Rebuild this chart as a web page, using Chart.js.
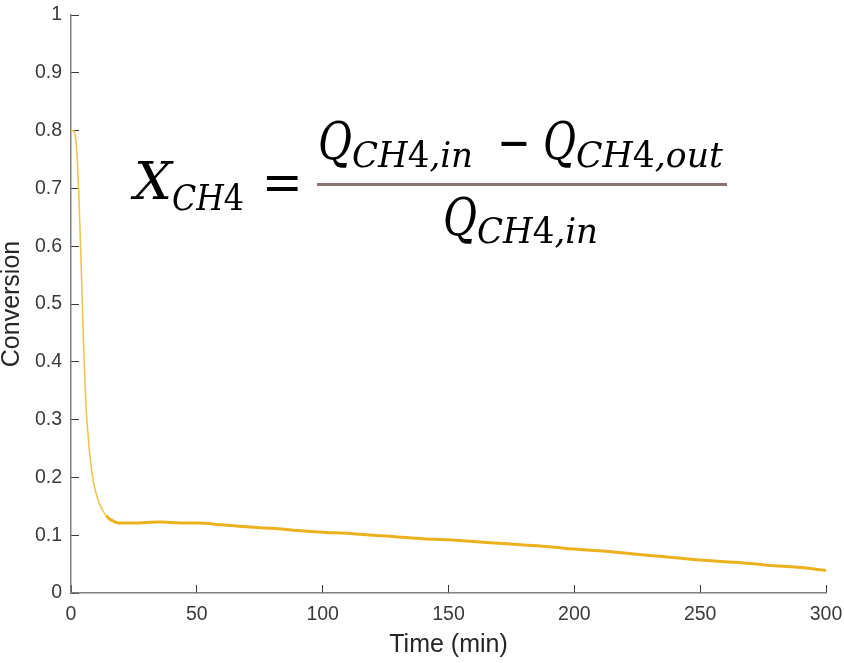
<!DOCTYPE html>
<html>
<head>
<meta charset="utf-8">
<script src="https://cdn.jsdelivr.net/npm/chart.js@4/dist/chart.umd.min.js"></script>
<style>
  html, body { margin: 0; padding: 0; background: #fff; }
  #wrap { width: 844px; height: 663px; position: relative; }
</style>
</head>
<body>
<div id="wrap"><canvas id="c" width="844" height="663"></canvas></div>
<script>
// ---- data ----
const timeMin = [0, 1, 1.5, 2, 2.5, 3, 3.5, 4, 4.5, 5, 5.5, 6, 7, 8, 9, 10, 11, 12, 13, 14, 15, 16, 17, 18, 20, 25, 30, 35, 40, 45, 50, 60, 71, 80, 90, 100, 111, 120, 130, 140, 150, 160, 170, 180, 190, 200, 210, 220, 230, 240, 250, 260, 270, 280, 290, 300];
const conversion = [0.800, 0.800, 0.795, 0.780, 0.750, 0.700, 0.640, 0.575, 0.500, 0.430, 0.370, 0.320, 0.262, 0.220, 0.190, 0.172, 0.158, 0.148, 0.140, 0.134, 0.129, 0.126, 0.124, 0.122, 0.121, 0.121, 0.122, 0.123, 0.122, 0.121, 0.121, 0.118, 0.114, 0.112, 0.108, 0.105, 0.103, 0.100, 0.097, 0.094, 0.092, 0.089, 0.086, 0.083, 0.080, 0.076, 0.073, 0.069, 0.065, 0.061, 0.057, 0.054, 0.051, 0.047, 0.044, 0.039];
const xTickValues = [0, 50, 100, 150, 200, 250, 300];
const yTickValues = [0, 0.1, 0.2, 0.3, 0.4, 0.5, 0.6, 0.7, 0.8, 0.9, 1];
const yTickLabels = ['0', '0.1', '0.2', '0.3', '0.4', '0.5', '0.6', '0.7', '0.8', '0.9', '1'];
const xTitle = 'Time (min)';
const yTitle = 'Conversion';

const points = timeMin.map((t, i) => ({ x: t, y: conversion[i] }));

// ---- formula overlay ----
const SERIF = '"DejaVu Serif", "Liberation Serif", serif';
function drawRuns(ctx, runs, size, left, baseline, targetW) {
  let total = 0;
  const ms = runs.map(([txt, it]) => {
    ctx.font = (it ? 'italic ' : '') + size + 'px ' + SERIF;
    const m = ctx.measureText(txt);
    total += m.width;
    return m;
  });
  const sx = targetW / total;
  ctx.save();
  ctx.translate(left, baseline);
  ctx.scale(sx, 1);
  let x = 0;
  runs.forEach(([txt, it], i) => {
    ctx.font = (it ? 'italic ' : '') + size + 'px ' + SERIF;
    ctx.fillText(txt, x, 0);
    x += ms[i].width;
  });
  ctx.restore();
}
function drawCentered(ctx, txt, size, cx, cy, targetW) {
  ctx.font = size + 'px ' + SERIF;
  const m = ctx.measureText(txt);
  const w = m.actualBoundingBoxLeft + m.actualBoundingBoxRight;
  const sx = targetW / w;
  const midOff = (m.actualBoundingBoxAscent - m.actualBoundingBoxDescent) / 2;
  ctx.save();
  ctx.translate(cx, cy + midOff);
  ctx.scale(sx, 1);
  ctx.textAlign = 'left';
  ctx.fillText(txt, -(m.actualBoundingBoxRight - m.actualBoundingBoxLeft) / 2, 0);
  ctx.restore();
}
const formulaPlugin = {
  id: 'formula',
  afterDraw(chart) {
    const ctx = chart.ctx;
    ctx.save();
    ctx.fillStyle = '#000';
    ctx.textBaseline = 'alphabetic';
    ctx.textAlign = 'left';
    const sub = (tail) => [['CH', true], ['4', false], [tail, true]];
    // X_CH4 =
    drawRuns(ctx, [['X', true]], 52, 134, 199, 38);
    drawRuns(ctx, sub(''), 36, 172, 210, 72);
    drawCentered(ctx, '=', 52, 282.5, 183.5, 32);
    // numerator
    drawRuns(ctx, [['Q', true]], 52, 318, 159, 34);
    drawRuns(ctx, sub(',in'), 36, 352, 167, 121);
    drawCentered(ctx, '\u2212', 52, 514, 143, 26);
    drawRuns(ctx, [['Q', true]], 52, 543, 159, 33);
    drawRuns(ctx, sub(',out'), 36, 576, 167, 147);
    // fraction bar
    ctx.fillStyle = '#8a7373';
    ctx.fillRect(317, 183, 410, 3);
    ctx.fillStyle = '#000';
    // denominator
    drawRuns(ctx, [['Q', true]], 52, 443, 235, 34);
    drawRuns(ctx, sub(',in'), 36, 477, 243, 121);
    ctx.restore();
  }
};

const tickFont = { family: '"Liberation Sans", Arial, Helvetica, sans-serif', size: 19.5 };
const titleFont = { family: '"Liberation Sans", Arial, Helvetica, sans-serif', size: 25, lineHeight: 1 };
const zeroPad = s => { s.paddingLeft = 0; s.paddingRight = 0; s.paddingTop = 0; s.paddingBottom = 0; };

new Chart(document.getElementById('c'), {
  type: 'line',
  data: {
    datasets: [{
      data: points,
      borderColor: '#EDB120',
      borderWidth: 3,
      pointRadius: 0,
      cubicInterpolationMode: 'monotone',
      fill: false,
      segment: {
        borderWidth: c => (c.p0.parsed.x < 14 ? 1.6 : 3),
        borderColor: c => (c.p0.parsed.x < 14 ? '#F1C355' : '#EDB120')
      }
    }]
  },
  options: {
    responsive: false,
    animation: false,
    devicePixelRatio: 1,
    layout: { padding: { top: 15, right: 18, left: 0, bottom: 0 } },
    plugins: { legend: { display: false }, tooltip: { enabled: false } },
    scales: {
      x: {
        type: 'linear',
        min: 0, max: 300,
        afterBuildTicks: s => { s.ticks = xTickValues.map(v => ({ value: v })); },
        afterFit: s => { s.height = 70; zeroPad(s); },
        border: { display: true, color: '#808080', width: 1.5 },
        grid: { drawOnChartArea: false, drawTicks: true, tickLength: -8, color: '#3a3a3a', lineWidth: 1 },
        ticks: { font: tickFont, color: '#3a3a3a', padding: 18, maxRotation: 0, callback: v => String(v) },
        title: { display: true, text: xTitle, font: titleFont, color: '#262626', padding: { top: 0, bottom: 5.5 } }
      },
      y: {
        type: 'linear',
        min: 0, max: 1,
        afterBuildTicks: s => { s.ticks = yTickValues.map(v => ({ value: v })); },
        afterFit: s => { s.width = 71; zeroPad(s); },
        border: { display: true, color: '#808080', width: 1.5 },
        grid: { drawOnChartArea: false, drawTicks: true, tickLength: -8, color: '#3a3a3a', lineWidth: 1 },
        ticks: {
          font: tickFont, color: '#3a3a3a', padding: 17,
          callback: (v) => { const i = yTickValues.findIndex(t => Math.abs(t - v) < 1e-9); return i >= 0 ? yTickLabels[i] : ''; }
        },
        title: { display: true, text: yTitle, font: titleFont, color: '#262626', padding: { top: 0, bottom: 0 } }
      }
    }
  },
  plugins: [formulaPlugin]
});
</script>
</body>
</html>
